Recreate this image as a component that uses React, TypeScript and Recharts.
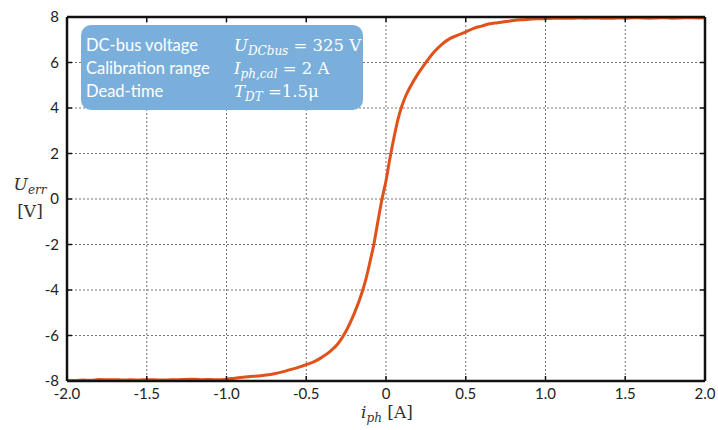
import React from "react";
import { LineChart, Line, XAxis, YAxis, CartesianGrid, ReferenceLine } from "recharts";

// measured phase current [A]
const current = [
  -2.0, -1.95, -1.9, -1.85, -1.8, -1.75, -1.7, -1.65, -1.6, -1.55, -1.5, -1.45, -1.4, -1.35, -1.3,
  -1.25, -1.2, -1.15, -1.1, -1.05, -1.0, -0.95, -0.9, -0.85, -0.8, -0.75, -0.7, -0.65, -0.6, -0.55,
  -0.5, -0.45, -0.4, -0.35, -0.3, -0.25, -0.2, -0.15, -0.125, -0.1, -0.075, -0.05, -0.025, 0.0,
  0.025, 0.05, 0.075, 0.1, 0.125, 0.15, 0.2, 0.25, 0.3, 0.35, 0.4, 0.45, 0.5, 0.55, 0.6, 0.65, 0.7,
  0.75, 0.8, 0.85, 0.9, 0.95, 1.0, 1.05, 1.1, 1.15, 1.2, 1.25, 1.3, 1.35, 1.4, 1.45, 1.5, 1.55, 1.6,
  1.65, 1.7, 1.75, 1.8, 1.85, 1.9, 1.95, 2.0,
];
// voltage error [V]
const voltageErr = [
  -7.97, -7.98, -7.96, -7.97, -7.93, -7.95, -7.94, -7.96, -7.95, -7.96, -7.94, -7.95, -7.96, -7.95, -7.94,
  -7.93, -7.92, -7.94, -7.93, -7.95, -7.92, -7.88, -7.84, -7.8, -7.78, -7.74, -7.68, -7.6, -7.5, -7.4,
  -7.28, -7.15, -6.95, -6.7, -6.35, -5.8, -5.05, -4.1, -3.5, -2.75, -1.95, -0.95, 0.0, 0.8,
  1.8, 2.7, 3.5, 4.1, 4.55, 4.9, 5.5, 6.0, 6.45, 6.8, 7.05, 7.2, 7.35, 7.5, 7.6, 7.7, 7.75,
  7.8, 7.85, 7.88, 7.9, 7.92, 7.93, 7.94, 7.95, 7.94, 7.96, 7.95, 7.96, 7.95, 7.94, 7.96, 7.95, 7.97, 7.96,
  7.95, 7.96, 7.97, 7.95, 7.96, 7.97, 7.96, 7.97,
];

const xTicks = [-2, -1.5, -1, -0.5, 0, 0.5, 1, 1.5, 2];
const xTickLabels = ["-2.0", "-1.5", "-1.0", "-0.5", "0", "0.5", "1.0", "1.5", "2.0"];
const yTicks = [-8, -6, -4, -2, 0, 2, 4, 6, 8];

const infoRows = [
  ["DC-bus voltage", "U", "DCbus", "= 325 V"],
  ["Calibration range", "I", "ph,cal", "= 2 A"],
  ["Dead-time", "T", "DT", "=1.5μ"],
];

const data = current.map((x, i) => ({ x, v: voltageErr[i] }));

const W = 718;
const H = 430;
const LEFT = 67;
const TOP = 17;
const RIGHT = 705;
const BOTTOM = 381;
const tickFont = "Lato, 'Open Sans', sans-serif";
const mathFont = "'DejaVu Serif', 'Liberation Serif', serif";

const subStyle: React.CSSProperties = {
  fontSize: 12,
  fontStyle: "italic",
  position: "relative",
  top: 4,
  lineHeight: 0,
};

const XTick = (props: any) => {
  const { x, payload } = props;
  const idx = xTicks.indexOf(payload.value);
  return (
    <g>
      <line x1={x} x2={x} y1={BOTTOM} y2={BOTTOM - 5} stroke="#111" strokeWidth={1.5} />
      <line x1={x} x2={x} y1={TOP} y2={TOP + 5} stroke="#111" strokeWidth={1.5} />
      <text x={x} y={BOTTOM + 18} textAnchor="middle" fontSize={15} fontFamily={tickFont} fill="#222">
        {idx >= 0 ? xTickLabels[idx] : payload.value}
      </text>
    </g>
  );
};

const YTick = (props: any) => {
  const { y, payload } = props;
  return (
    <g>
      <line x1={LEFT} x2={LEFT + 5} y1={y} y2={y} stroke="#111" strokeWidth={1.5} />
      <line x1={RIGHT} x2={RIGHT - 5} y1={y} y2={y} stroke="#111" strokeWidth={1.5} />
      <text x={LEFT - 8} y={y + 5} textAnchor="end" fontSize={15} fontFamily={tickFont} fill="#222">
        {payload.value}
      </text>
    </g>
  );
};

export default function App() {
  return (
    <div style={{ position: "fixed", left: 0, top: 0, width: W, height: H, background: "#fff" }}>
      <LineChart
        width={W}
        height={H}
        data={data}
        margin={{ top: TOP, right: W - RIGHT, bottom: 0, left: 0 }}
      >
        <CartesianGrid stroke="#777" strokeDasharray="2 2" strokeWidth={1} />
        <XAxis
          dataKey="x"
          type="number"
          domain={[-2, 2]}
          ticks={xTicks}
          height={H - BOTTOM}
          axisLine={false}
          tickLine={false}
          tick={<XTick />}
          interval={0}
        />
        <YAxis
          type="number"
          domain={[-8, 8]}
          ticks={yTicks}
          width={LEFT}
          axisLine={false}
          tickLine={false}
          tick={<YTick />}
          interval={0}
        />
        <Line
          type="monotone"
          dataKey="v"
          stroke="#e0521b"
          strokeWidth={3}
          dot={false}
          isAnimationActive={false}
        />
        <ReferenceLine x={-2} stroke="#111" strokeWidth={2.5} />
        <ReferenceLine x={2} stroke="#111" strokeWidth={2.5} />
        <ReferenceLine y={-8} stroke="#111" strokeWidth={2.5} />
        <ReferenceLine y={8} stroke="#111" strokeWidth={2.5} />
      </LineChart>

      <div
        style={{
          position: "absolute",
          left: 81,
          top: 25,
          width: 282,
          height: 85,
          background: "#7aafdc",
          borderRadius: 10,
          color: "#fff",
          fontSize: 16.5,
          lineHeight: "23px",
          padding: "9px 0 0 5px",
          boxSizing: "border-box",
        }}
      >
        {infoRows.map(([label, sym, sub, rest]) => (
          <div key={label} style={{ display: "flex", whiteSpace: "nowrap", height: 23 }}>
            <span style={{ width: 148, fontFamily: tickFont }}>{label}</span>
            <span style={{ fontFamily: mathFont }}>
              <i>{sym}</i>
              <span style={subStyle}>{sub}</span> {rest}
            </span>
          </div>
        ))}
      </div>

      <div
        style={{
          position: "absolute",
          left: 10,
          top: 171,
          width: 40,
          textAlign: "center",
          fontFamily: mathFont,
          fontSize: 17,
          color: "#333",
          lineHeight: "27px",
        }}
      >
        <div>
          <i>U</i>
          <span style={subStyle}>err</span>
        </div>
        <div>[V]</div>
      </div>

      <div
        style={{
          position: "absolute",
          left: 337,
          top: 402,
          width: 100,
          textAlign: "center",
          fontFamily: mathFont,
          fontSize: 17,
          color: "#333",
          lineHeight: "20px",
        }}
      >
        <i>i</i>
        <span style={subStyle}>ph</span> [A]
      </div>
    </div>
  );
}
